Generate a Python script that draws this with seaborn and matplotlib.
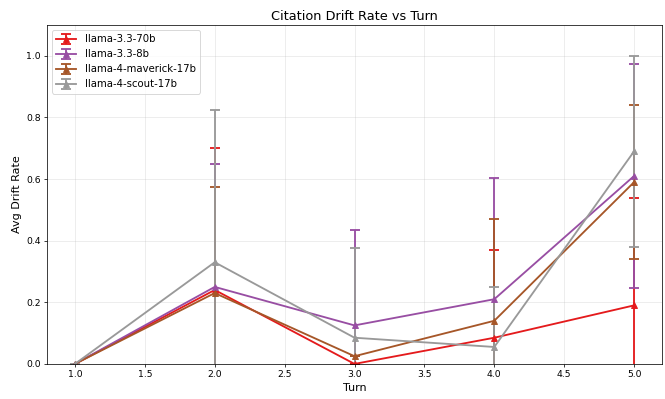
import numpy as np
import matplotlib
matplotlib.use("Agg")
import matplotlib.pyplot as plt
import seaborn as sns

turns = [1.0, 2.0, 3.0, 4.0, 5.0]
models = ["llama-3.3-70b", "llama-3.3-8b", "llama-4-maverick-17b", "llama-4-scout-17b"]

rate_70b = [0.0, 0.24, 0.0, 0.085, 0.19]
rate_8b = [0.0, 0.25, 0.125, 0.21, 0.61]
rate_maverick = [0.0, 0.23, 0.025, 0.14, 0.59]
rate_scout = [0.0, 0.33, 0.085, 0.055, 0.69]

err_70b = [0.0, 0.46, 0.0, 0.285, 0.35]
err_8b = [0.0, 0.40, 0.31, 0.395, 0.365]
err_maverick = [0.0, 0.345, 0.0, 0.33, 0.25]
err_scout = [0.0, 0.495, 0.29, 0.195, 0.31]

rates = [rate_70b, rate_8b, rate_maverick, rate_scout]
errs = [err_70b, err_8b, err_maverick, err_scout]

pal = sns.color_palette("Set1", 9)
colors = [pal[0], pal[3], pal[6], pal[8]]

fig, ax = plt.subplots(figsize=(10, 6), dpi=66.5)
for name, y, e, c in zip(models, rates, errs, colors):
    ax.errorbar(turns, y, yerr=e, label=name, color=c, marker="^",
                markersize=6, linewidth=2, capsize=5, capthick=2, elinewidth=2)

ax.set_ylim(0, 1.1)
ax.set_xlabel("Turn", fontsize=12)
ax.set_ylabel("Avg Drift Rate", fontsize=12)
ax.set_title("Citation Drift Rate vs Turn", fontsize=14)
ax.legend(loc="upper left", fontsize=11)
ax.grid(True, alpha=0.3)
fig.subplots_adjust(left=47 / 665, right=662 / 665, top=1 - 25 / 398, bottom=1 - 363 / 398)
plt.savefig("out.png")
plt.close()
